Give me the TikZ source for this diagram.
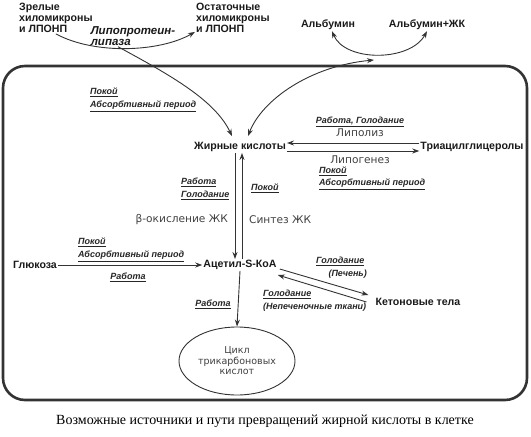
\documentclass[tikz,border=0pt]{standalone}
\usepackage{fontspec}
\setmainfont{Liberation Sans}
\newfontfamily\capfont{Liberation Serif}
\newfontfamily\procfont{DejaVu Sans}
\usetikzlibrary{arrows.meta,shapes.geometric}

\begin{document}
\begin{tikzpicture}[x=1pt, y=-1pt,
  subst/.style={font=\bfseries\fontsize{10.6}{11}\selectfont, inner sep=1pt, text=black!90},
  cond/.style={font=\bfseries\itshape\fontsize{9}{9}\selectfont, inner sep=1pt, text=black!85},
  proc/.style={font=\procfont\fontsize{10.6}{11}\selectfont, inner sep=1pt, text=black!75},
  flow/.style={-{Stealth[length=7pt,width=5pt]}, line width=0.9pt, draw=black!80},
  twoway/.style={{Stealth[length=7pt,width=5pt]}-{Stealth[length=7pt,width=5pt]}, line width=0.9pt, draw=black!80}]
  \useasboundingbox (0,0) rectangle (531,437);
  \draw[line width=2.6pt, rounded corners=22pt, black!80] (3,66) rectangle (527,400);

  \node[subst, align=left, anchor=north west] (mature) at (18,2) {Зрелые\\хиломикроны\\и ЛПОНП};
  \node[subst, align=left, anchor=north west] (remnant) at (195,2) {Остаточные\\хиломикроны\\и ЛПОНП};
  \node[subst, font=\bfseries\itshape\fontsize{11.5}{11}\selectfont, align=left] (lipase) at (133,36) {Липопротеин-\\липаза};
  \node[subst] (alb) at (328,25) {Альбумин};
  \node[subst] (albfa) at (427,25) {Альбумин+ЖК};

  \node[subst] (fa) at (240,147) {Жирные кислоты};
  \node[subst] (tag) at (472,147) {Триацилглицеролы};
  \node[subst] (acet) at (240,265) {Ацетил-S-КоА};
  \node[subst] (glu) at (35,265) {Глюкоза};
  \node[subst] (keto) at (418,302) {Кетоновые тела};
  \node[ellipse, draw=black!80, line width=0.9pt, minimum width=116pt, minimum height=68pt,
        align=center, font=\procfont\fontsize{9.5}{10.5}\selectfont, text=black!75, inner sep=0pt] (tca) at (237,361) {Цикл\\трикарбоновых\\кислот};

  \node[cond, anchor=west] (c1) at (89,92) {\underline{Покой}};
  \node[cond, anchor=west] (c2) at (89,106) {\underline{Абсорбтивный период}};
  \node[cond] (c3) at (360,122) {\underline{Работа, Голодание}};
  \node[proc] (lipolysis) at (360,133) {Липолиз};
  \node[proc] (lipogenesis) at (360,160) {Липогенез};
  \node[cond, anchor=west] (c4) at (318,171) {\underline{Покой}};
  \node[cond, anchor=west] (c5) at (318,184) {\underline{Абсорбтивный период}};
  \node[cond, anchor=west] (c6) at (180,182) {\underline{Работа}};
  \node[cond, anchor=west] (c7) at (180,195) {\underline{Голодание}};
  \node[cond, anchor=west] (c8) at (250,188) {\underline{Покой}};
  \node[proc, anchor=east] (betaox) at (229,220) {β-окисление ЖК};
  \node[proc, anchor=west] (synth) at (248,220) {Синтез ЖК};
  \node[cond, anchor=west] (c9) at (77,242) {\underline{Покой}};
  \node[cond, anchor=west] (c10) at (77,256) {\underline{Абсорбтивный период}};
  \node[cond] (c11) at (128,277) {\underline{Работа}};
  \node[cond] (c12) at (213,304) {\underline{Работа}};
  \node[cond, anchor=west] (c13) at (315,261) {\underline{Голодание}};
  \node[cond, anchor=east] (c14) at (368,274) {(Печень)};
  \node[cond, anchor=west] (c15) at (262,294) {\underline{Голодание}};
  \node[cond, anchor=west] (c16) at (262,307) {(Непеченочные ткани)};

  \node[font=\capfont\fontsize{14}{16}\selectfont] (caption) at (265,421) {Возможные источники и пути превращений жирной кислоты в клетке};

  \draw[flow] (mature.south) .. controls (95,55) and (160,52) .. ([yshift=2pt]remnant.south west);
  \draw[flow] ([xshift=-15pt]lipase.south) .. controls (170,75) and (215,100) .. ([xshift=-8pt,yshift=5pt]fa.north);
  \draw[twoway] ([xshift=4pt]alb.south) .. controls (345,62) and (410,62) .. (albfa.south);
  \draw[twoway] ([xshift=8pt,yshift=5pt]fa.north) .. controls (262,100) and (310,66) .. (374,60);

  \draw[flow] ([yshift=4pt]tag.west) -- ([yshift=4pt]fa.east);
  \draw[flow] ([yshift=-4pt]fa.east) -- ([yshift=-4pt]tag.west);
  \draw[flow] ([xshift=-5pt]fa.south) -- ([xshift=-5pt]acet.north);
  \draw[flow] ([xshift=2pt]acet.north) -- ([xshift=2pt]fa.south);
  \draw[flow] (glu.east) -- (acet.west);
  \draw[flow] (acet.south) -- (tca.north);
  \draw[flow] ([xshift=2pt,yshift=-4pt]acet.east) -- ([xshift=-6pt,yshift=7pt]keto.west);
  \draw[flow] ([xshift=-8pt]keto.west) -- ([yshift=-10pt]acet.east);
\end{tikzpicture}
\end{document}
